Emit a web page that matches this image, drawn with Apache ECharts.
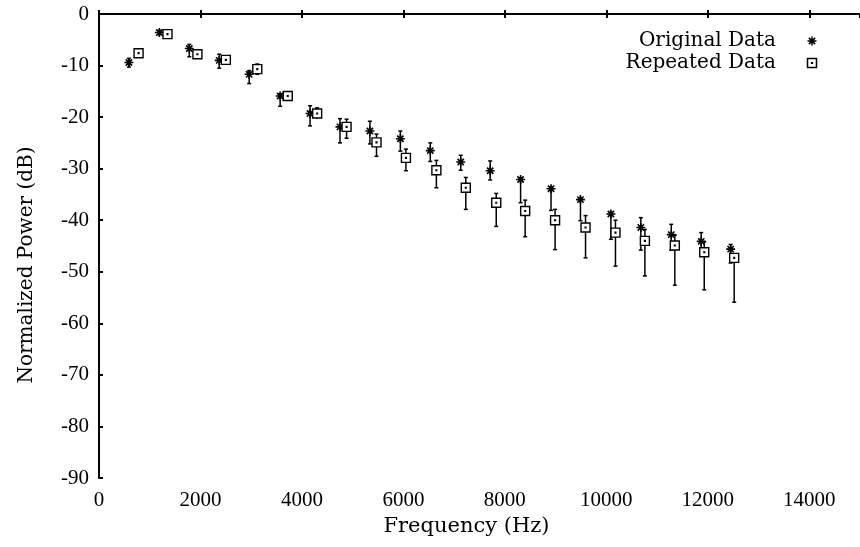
<!DOCTYPE html>
<html>
<head>
<meta charset="utf-8">
<script src="https://cdn.jsdelivr.net/npm/echarts@6/dist/echarts.min.js"></script>
<style>
  html, body { margin: 0; padding: 0; background: #fff; }
  #chart { width: 860px; height: 547px; }
</style>
</head>
<body>
<div id="chart"></div>
<script>
// original data (asterisk)
var origFreq  = [590, 1190, 1780, 2370, 2960, 3570, 4160, 4750, 5340, 5940, 6530, 7130, 7710, 8310, 8910, 9490, 10090, 10680, 11280, 11870, 12450];
var origPower = [-9.4, -3.6, -6.7, -9.0, -11.7, -15.9, -19.3, -21.9, -22.7, -24.2, -26.5, -28.7, -30.4, -32.1, -33.9, -36.0, -38.8, -41.4, -42.8, -44.1, -45.6];
var origHigh  = [-8.6, -3.2, -5.9, -7.8, -11.0, -15.5, -17.8, -20.3, -20.8, -22.7, -25.0, -27.4, -28.5, -31.8, -33.6, -35.7, -38.5, -39.5, -40.8, -42.4, -44.7];
var origLow   = [-10.3, -4.0, -8.3, -10.5, -13.5, -17.9, -21.7, -25.0, -25.2, -26.6, -28.6, -30.3, -32.2, -36.6, -38.1, -40.1, -43.7, -45.8, -45.8, -46.5, -48.3];

// repeated data (square)
var repFreq  = [780, 1350, 1940, 2500, 3120, 3720, 4300, 4880, 5470, 6050, 6650, 7230, 7830, 8400, 8990, 9590, 10180, 10760, 11350, 11930, 12520];
var repPower = [-7.6, -3.9, -7.8, -8.9, -10.7, -15.9, -19.3, -21.9, -24.9, -27.9, -30.3, -33.7, -36.6, -38.2, -40.0, -41.4, -42.4, -44.0, -44.9, -46.2, -47.3];
var repHigh  = [-6.9, -3.5, -7.3, -8.4, -9.7, -15.5, -18.2, -20.4, -23.3, -26.2, -28.4, -31.7, -34.8, -36.1, -37.9, -39.1, -40.0, -41.8, -42.9, -44.2, -46.8];
var repLow   = [-8.3, -4.3, -8.3, -9.4, -11.7, -16.3, -20.1, -24.1, -27.6, -30.4, -33.7, -37.9, -41.2, -43.2, -45.7, -47.3, -48.9, -50.8, -52.6, -53.5, -55.9];

var NUMFONT = 'Liberation Serif';
var TXTFONT = 'DejaVu Serif';
var STAR = 'path://M0,5L10,5M5,0L5,10M1.5,1.5L8.5,8.5M8.5,1.5L1.5,8.5';
var BOX = 'path://M0,0L10,0L10,10L0,10Z M4.6,4.6L5.4,4.6L5.4,5.4L4.6,5.4Z';

function pairs(xs, ys) {
    return xs.map(function (x, i) { return [x, ys[i]]; });
}
function bars(xs, lo, hi) {
    return xs.map(function (x, i) { return [x, lo[i], hi[i]]; });
}

function renderBar(params, api) {
    var x = api.value(0);
    var a = api.coord([x, api.value(1)]);
    var b = api.coord([x, api.value(2)]);
    var w = 2;
    var st = { stroke: '#000', lineWidth: 1.5 };
    return {
        type: 'group',
        children: [
            { type: 'line', shape: { x1: a[0], y1: a[1], x2: b[0], y2: b[1] }, style: st },
            { type: 'line', shape: { x1: a[0] - w, y1: a[1], x2: a[0] + w, y2: a[1] }, style: st },
            { type: 'line', shape: { x1: b[0] - w, y1: b[1], x2: b[0] + w, y2: b[1] }, style: st }
        ]
    };
}

var chart = echarts.init(document.getElementById('chart'));

var option = {
    animation: false,
    backgroundColor: '#fff',
    grid: { left: 99, top: 14, right: -7, bottom: 69 },
    legend: {
        orient: 'vertical',
        right: 41,
        top: 31,
        padding: 0,
        itemGap: 2,
        align: 'right',
        itemWidth: 62,
        itemHeight: 9,
        data: ['Original Data', 'Repeated Data'],
        itemStyle: { borderWidth: 1.5, borderColor: '#000', color: 'none' },
        textStyle: { fontFamily: TXTFONT, fontSize: 20, color: '#000' }
    },
    xAxis: [{
        type: 'value',
        min: 0,
        max: 15000,
        interval: 2000,
        name: 'Frequency (Hz)',
        nameLocation: 'middle',
        nameGap: 35,
        nameTextStyle: { fontFamily: TXTFONT, fontSize: 21, color: '#000', padding: [0, 26, 0, 0] },
        axisLine: { lineStyle: { color: '#000', width: 2 } },
        axisTick: { inside: true, length: 4, lineStyle: { color: '#000', width: 2 } },
        axisLabel: {
            fontFamily: NUMFONT, fontSize: 21, color: '#000', margin: 12, showMaxLabel: false,
            formatter: function (v) { return String(v); }
        },
        splitLine: { show: false }
    }, {
        type: 'value',
        position: 'top',
        min: 0,
        max: 15000,
        interval: 2000,
        axisLine: { lineStyle: { color: '#000', width: 2 } },
        axisTick: { inside: true, length: 4, lineStyle: { color: '#000', width: 2 } },
        axisLabel: { show: false },
        splitLine: { show: false }
    }],
    yAxis: {
        type: 'value',
        min: -90,
        max: 0,
        interval: 10,
        name: 'Normalized Power (dB)',
        nameLocation: 'middle',
        nameGap: 62,
        nameTextStyle: { fontFamily: TXTFONT, fontSize: 20, color: '#000', padding: [0, 38, 0, 0] },
        axisLine: { lineStyle: { color: '#000', width: 2 } },
        axisTick: { inside: true, length: 4, lineStyle: { color: '#000', width: 2 } },
        axisLabel: {
            fontFamily: NUMFONT, fontSize: 21, color: '#000', margin: 10,
            formatter: function (v) { return String(v); }
        },
        splitLine: { show: false }
    },
    series: [{
        name: 'origBars',
        type: 'custom',
        renderItem: renderBar,
        data: bars(origFreq, origLow, origHigh),
        encode: { x: 0, y: [1, 2] },
        silent: true,
        z: 2
    }, {
        name: 'repBars',
        type: 'custom',
        renderItem: renderBar,
        data: bars(repFreq, repLow, repHigh),
        encode: { x: 0, y: [1, 2] },
        silent: true,
        z: 2
    }, {
        name: 'Original Data',
        type: 'scatter',
        symbol: STAR,
        symbolSize: 9,
        itemStyle: { color: 'none', borderColor: '#000', borderWidth: 1.6, opacity: 1 },
        data: pairs(origFreq, origPower),
        z: 3
    }, {
        name: 'Repeated Data',
        type: 'scatter',
        symbol: BOX,
        symbolSize: 9,
        itemStyle: { color: '#fff', borderColor: '#000', borderWidth: 1.4, opacity: 1 },
        data: pairs(repFreq, repPower),
        z: 3
    }]
};

chart.setOption(option);
</script>
</body>
</html>
